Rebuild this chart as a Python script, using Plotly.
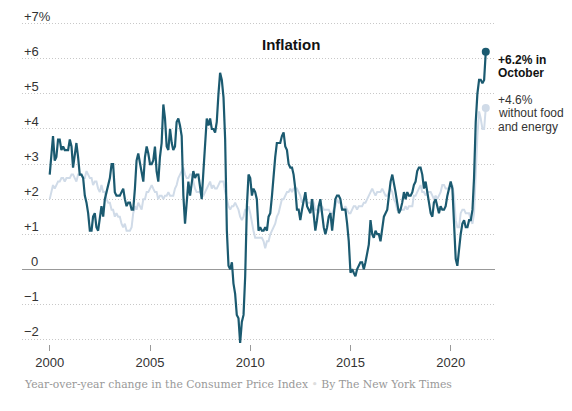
import pandas as pd
import plotly.graph_objects as go

# year-over-year change in CPI, monthly, Jan 2000 - Oct 2021
all_items = [
    2.7, 3.2, 3.8, 3.1, 3.2, 3.7, 3.7, 3.4, 3.5, 3.4, 3.4, 3.4,
    3.7, 3.5, 2.9, 3.3, 3.6, 3.2, 2.7, 2.7, 2.6, 2.1, 1.9, 1.6,
    1.1, 1.1, 1.5, 1.6, 1.2, 1.1, 1.5, 1.8, 1.5, 2.0, 2.2, 2.4,
    2.6, 3.0, 3.0, 2.2, 2.1, 2.1, 2.1, 2.2, 2.3, 2.0, 1.8, 1.9,
    1.9, 1.7, 1.7, 2.3, 3.1, 3.3, 3.0, 2.7, 2.5, 3.2, 3.5, 3.3,
    3.0, 3.0, 3.1, 3.5, 2.8, 2.5, 3.2, 3.6, 4.7, 4.3, 3.5, 3.4,
    4.0, 3.6, 3.4, 3.5, 4.2, 4.3, 4.1, 3.8, 2.1, 1.3, 2.0, 2.5,
    2.1, 2.4, 2.8, 2.6, 2.7, 2.7, 2.4, 2.0, 2.8, 3.5, 4.3, 4.1,
    4.3, 4.0, 4.0, 3.9, 4.2, 5.0, 5.6, 5.4, 4.9, 3.7, 1.1, 0.1,
    0.0, 0.2, -0.4, -0.7, -1.3, -1.4, -2.1, -1.5, -1.3, -0.2, 1.8, 2.7,
    2.6, 2.1, 2.3, 2.2, 2.0, 1.1, 1.2, 1.1, 1.1, 1.2, 1.1, 1.5,
    1.6, 2.1, 2.7, 3.2, 3.6, 3.6, 3.6, 3.8, 3.9, 3.5, 3.4, 3.0,
    2.9, 2.9, 2.7, 2.3, 1.7, 1.7, 1.4, 1.7, 2.0, 2.2, 1.8, 1.7,
    1.6, 2.0, 1.5, 1.1, 1.4, 1.8, 2.0, 1.5, 1.2, 1.0, 1.2, 1.5,
    1.6, 1.1, 1.5, 2.0, 2.1, 2.1, 2.0, 1.7, 1.7, 1.7, 1.3, 0.8,
    -0.1, 0.0, -0.1, -0.2, 0.0, 0.1, 0.2, 0.2, 0.0, 0.2, 0.5, 0.7,
    1.4, 1.0, 0.9, 1.1, 1.0, 1.0, 0.8, 1.1, 1.5, 1.6, 1.7, 2.1,
    2.5, 2.7, 2.4, 2.2, 1.9, 1.6, 1.7, 1.9, 2.2, 2.0, 2.2, 2.1,
    2.1, 2.2, 2.4, 2.5, 2.8, 2.9, 2.9, 2.7, 2.3, 2.5, 2.2, 1.9,
    1.6, 1.5, 1.9, 2.0, 1.8, 1.6, 1.8, 1.7, 1.7, 1.8, 2.1, 2.3,
    2.5, 2.3, 1.5, 0.3, 0.1, 0.6, 1.0, 1.3, 1.4, 1.2, 1.2, 1.4,
    1.4, 1.7, 2.6, 4.2, 5.0, 5.4, 5.4, 5.3, 5.4, 6.2,
]

# without food and energy
core = [
    2.0, 2.2, 2.4, 2.3, 2.4, 2.5, 2.5, 2.6, 2.6, 2.5, 2.6, 2.6,
    2.6, 2.7, 2.7, 2.6, 2.5, 2.7, 2.7, 2.7, 2.6, 2.6, 2.8, 2.7,
    2.6, 2.6, 2.4, 2.5, 2.5, 2.3, 2.2, 2.4, 2.2, 2.2, 2.0, 1.9,
    1.9, 1.7, 1.7, 1.5, 1.6, 1.5, 1.5, 1.3, 1.2, 1.3, 1.1, 1.1,
    1.1, 1.2, 1.6, 1.8, 1.7, 1.9, 1.8, 1.7, 2.0, 2.0, 2.2, 2.2,
    2.3, 2.4, 2.3, 2.2, 2.2, 2.0, 2.1, 2.1, 2.0, 2.1, 2.1, 2.2,
    2.1, 2.1, 2.1, 2.3, 2.4, 2.6, 2.7, 2.8, 2.9, 2.7, 2.6, 2.6,
    2.7, 2.7, 2.5, 2.3, 2.2, 2.2, 2.2, 2.1, 2.1, 2.2, 2.3, 2.4,
    2.5, 2.3, 2.4, 2.3, 2.3, 2.4, 2.5, 2.5, 2.5, 2.2, 2.0, 1.8,
    1.7, 1.8, 1.8, 1.9, 1.8, 1.7, 1.5, 1.4, 1.5, 1.7, 1.7, 1.8,
    1.6, 1.3, 1.1, 0.9, 0.9, 0.9, 0.9, 0.9, 0.8, 0.6, 0.8, 0.8,
    1.0, 1.1, 1.2, 1.3, 1.5, 1.6, 1.8, 2.0, 2.0, 2.1, 2.2, 2.2,
    2.3, 2.2, 2.3, 2.3, 2.3, 2.2, 2.1, 1.9, 2.0, 2.0, 1.9, 1.9,
    1.9, 2.0, 1.9, 1.7, 1.7, 1.6, 1.7, 1.8, 1.7, 1.7, 1.7, 1.7,
    1.6, 1.6, 1.7, 1.8, 2.0, 1.9, 1.9, 1.7, 1.7, 1.8, 1.7, 1.6,
    1.6, 1.7, 1.8, 1.8, 1.7, 1.8, 1.8, 1.8, 1.9, 1.9, 2.0, 2.1,
    2.2, 2.3, 2.2, 2.1, 2.2, 2.2, 2.2, 2.3, 2.2, 2.1, 2.1, 2.2,
    2.3, 2.2, 2.0, 1.9, 1.7, 1.7, 1.7, 1.7, 1.7, 1.8, 1.7, 1.8,
    1.8, 1.8, 2.1, 2.1, 2.2, 2.3, 2.4, 2.2, 2.2, 2.1, 2.2, 2.2,
    2.2, 2.1, 2.0, 2.1, 2.0, 2.1, 2.2, 2.4, 2.4, 2.3, 2.3, 2.3,
    2.3, 2.4, 2.1, 1.4, 1.2, 1.2, 1.6, 1.7, 1.7, 1.6, 1.6, 1.6,
    1.4, 1.3, 1.6, 3.0, 3.8, 4.5, 4.3, 4.0, 4.0, 4.6,
]

dates = pd.date_range("2000-01-01", periods=len(all_items), freq="MS")

y_ticks = [7, 6, 5, 4, 3, 2, 1, 0, -1, -2]
y_labels = ["+7%", "+6", "+5", "+4", "+3", "+2", "+1", "0", "\u22121", "\u22122"]
x_ticks = ["2000-01-01", "2005-01-01", "2010-01-01", "2015-01-01", "2020-01-01"]
x_labels = ["2000", "2005", "2010", "2015", "2020"]

main_lines = ["+6.2% in", "October"]
core_lines = ["+4.6%", "without food", "and energy"]

DARK = "#1b5a70"
LIGHT = "#d0dbe8"
SANS = "Liberation Sans, Arial, sans-serif"

fig = go.Figure()
fig.add_trace(go.Scatter(x=dates, y=core, mode="lines",
                         line=dict(color=LIGHT, width=2), hoverinfo="skip"))
fig.add_trace(go.Scatter(x=dates, y=all_items, mode="lines",
                         line=dict(color=DARK, width=2.2), hoverinfo="skip"))
fig.add_trace(go.Scatter(x=[dates[-1]], y=[core[-1]], mode="markers",
                         marker=dict(color=LIGHT, size=8), hoverinfo="skip"))
fig.add_trace(go.Scatter(x=[dates[-1]], y=[all_items[-1]], mode="markers",
                         marker=dict(color=DARK, size=8), hoverinfo="skip"))

annotations = []
for v, lab in zip(y_ticks, y_labels):
    annotations.append(dict(
        x=0, xref="paper", y=v, yref="y", text=lab, showarrow=False,
        xanchor="left", yanchor="bottom", yshift=-2, xshift=7 if v == 0 else 0,
        font=dict(family=SANS, size=13, color="#333")))

for i, line in enumerate(main_lines):
    annotations.append(dict(
        x=dates[-1], y=all_items[-1], text=f"<b>{line}</b>", showarrow=False,
        xanchor="left", yanchor="middle", xshift=10, yshift=-8 - 13.4 * i,
        font=dict(family=SANS, size=12, color="#121212")))

for i, line in enumerate(core_lines):
    annotations.append(dict(
        x=dates[-1], y=core[-1], text=line, showarrow=False,
        xanchor="left", yanchor="middle", xshift=10, yshift=8 - 13.4 * i,
        font=dict(family=SANS, size=12, color="#333")))

annotations.append(dict(
    x=0.569, y=0.929, xref="paper", yref="paper", text="<b>Inflation</b>",
    showarrow=False, xanchor="center", yanchor="middle",
    font=dict(family=SANS, size=15, color="#121212")))

annotations.append(dict(
    x=0, y=-0.127, xref="paper", yref="paper", showarrow=False,
    xanchor="left", yanchor="middle",
    text="Year-over-year change in the Consumer Price Index "
         "<span style='color:#ddd'>\u2022</span> By The New York Times",
    font=dict(family="DejaVu Serif, Georgia, serif", size=10.8, color="#999")))

fig.update_layout(
    width=572, height=411,
    margin=dict(l=22, r=77, t=22, b=67),
    paper_bgcolor="white", plot_bgcolor="white",
    showlegend=False,
    annotations=annotations,
    xaxis=dict(
        range=["1998-08-14", "2022-03-18"],
        tickvals=x_ticks, ticktext=x_labels,
        ticks="outside", ticklen=6, tickcolor="#999", tickwidth=1,
        showgrid=False, zeroline=False, showline=False,
        tickfont=dict(family=SANS, size=13, color="#333"),
    ),
    yaxis=dict(
        range=[-2.13, 7.05],
        tickvals=y_ticks, showticklabels=False,
        showgrid=True, gridcolor="#c8c8c8", griddash="1px,2px", gridwidth=1,
        zeroline=True, zerolinecolor="#999", zerolinewidth=1,
    ),
)

# the page has a default body margin; drop it so the chart sits at 0,0
fig.write_html("out.html", config={"displayModeBar": False},
               post_script="document.body.style.margin='0';")
